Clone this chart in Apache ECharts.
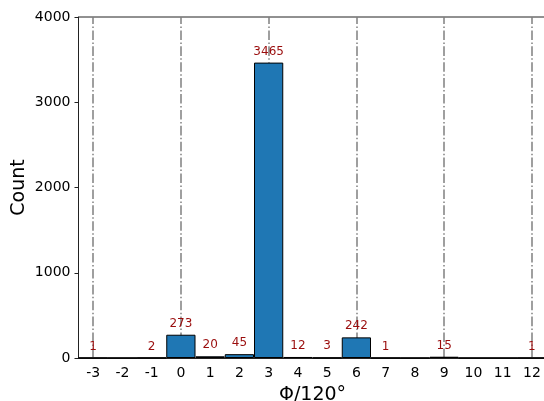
<!DOCTYPE html>
<html>
<head>
<meta charset="utf-8">
<script src="https://cdn.jsdelivr.net/npm/echarts@6/dist/echarts.min.js"></script>
<style>html,body{margin:0;padding:0;background:#fff}#c{width:544px;height:401px}</style>
</head>
<body>
<div id="c"></div>
<script>
const categories = ['-3','-2','-1','0','1','2','3','4','5','6','7','8','9','10','11','12'];
const counts = [1, 0, 2, 273, 20, 45, 3465, 12, 3, 242, 1, 0, 15, 0, 0, 1];
const refLines = ['-3','0','3','6','9','12'];
const yTicks = {min: 0, max: 4000, interval: 1000};

const chart = echarts.init(document.getElementById('c'), null, {renderer: 'canvas'});
const font = 'DejaVu Sans';
chart.setOption({
  animation: false,
  textStyle: {fontFamily: font},
  grid: {left: 78.5, top: 17, width: 468, height: 341, show: true, borderColor: '#222', borderWidth: 1,
         backgroundColor: 'transparent', containLabel: false, outerBoundsMode: 'none'},
  xAxis: {
    type: 'category', data: categories, boundaryGap: true,
    name: 'Φ/120°', nameLocation: 'middle', nameGap: 28, nameMoveOverlap: false,
    nameTextStyle: {fontSize: 19, color: '#000', fontFamily: font},
    axisLine: {lineStyle: {color: '#222', width: 1}},
    axisTick: {alignWithLabel: true, length: 4, lineStyle: {color: '#222'}},
    axisLabel: {fontSize: 14, color: '#000', margin: 8, fontFamily: font, interval: 0},
    splitLine: {show: false}
  },
  yAxis: {
    type: 'value', min: yTicks.min, max: yTicks.max, interval: yTicks.interval,
    name: 'Count', nameLocation: 'middle', nameGap: 50, nameMoveOverlap: false,
    nameTextStyle: {fontSize: 19, color: '#000', fontFamily: font},
    axisLine: {show: true, lineStyle: {color: '#222', width: 1}},
    axisTick: {show: true, length: 4, lineStyle: {color: '#222'}},
    axisLabel: {fontSize: 14, color: '#000', margin: 8, fontFamily: font, formatter: v => String(v)},
    splitLine: {show: false}
  },
  series: [
    {
      type: 'line', data: [], z: 1, silent: true,
      markLine: {
        z: 1, silent: true, symbol: 'none', label: {show: false},
        lineStyle: {color: '#808080', width: 1.5, type: [9.6, 2.4, 1.5, 2.4]},
        data: refLines.map(v => ({xAxis: v}))
      }
    },
    {
      type: 'bar', data: counts, z: 3, barCategoryGap: '0%',
      itemStyle: {color: '#1f77b4', borderColor: '#000', borderWidth: 1},
      label: {
        show: true, position: 'top', distance: 5, fontSize: 12, color: '#9a0d0d', fontFamily: font,
        formatter: p => p.value === 0 ? '' : String(p.value)
      }
    }
  ]
});
</script>
</body>
</html>
